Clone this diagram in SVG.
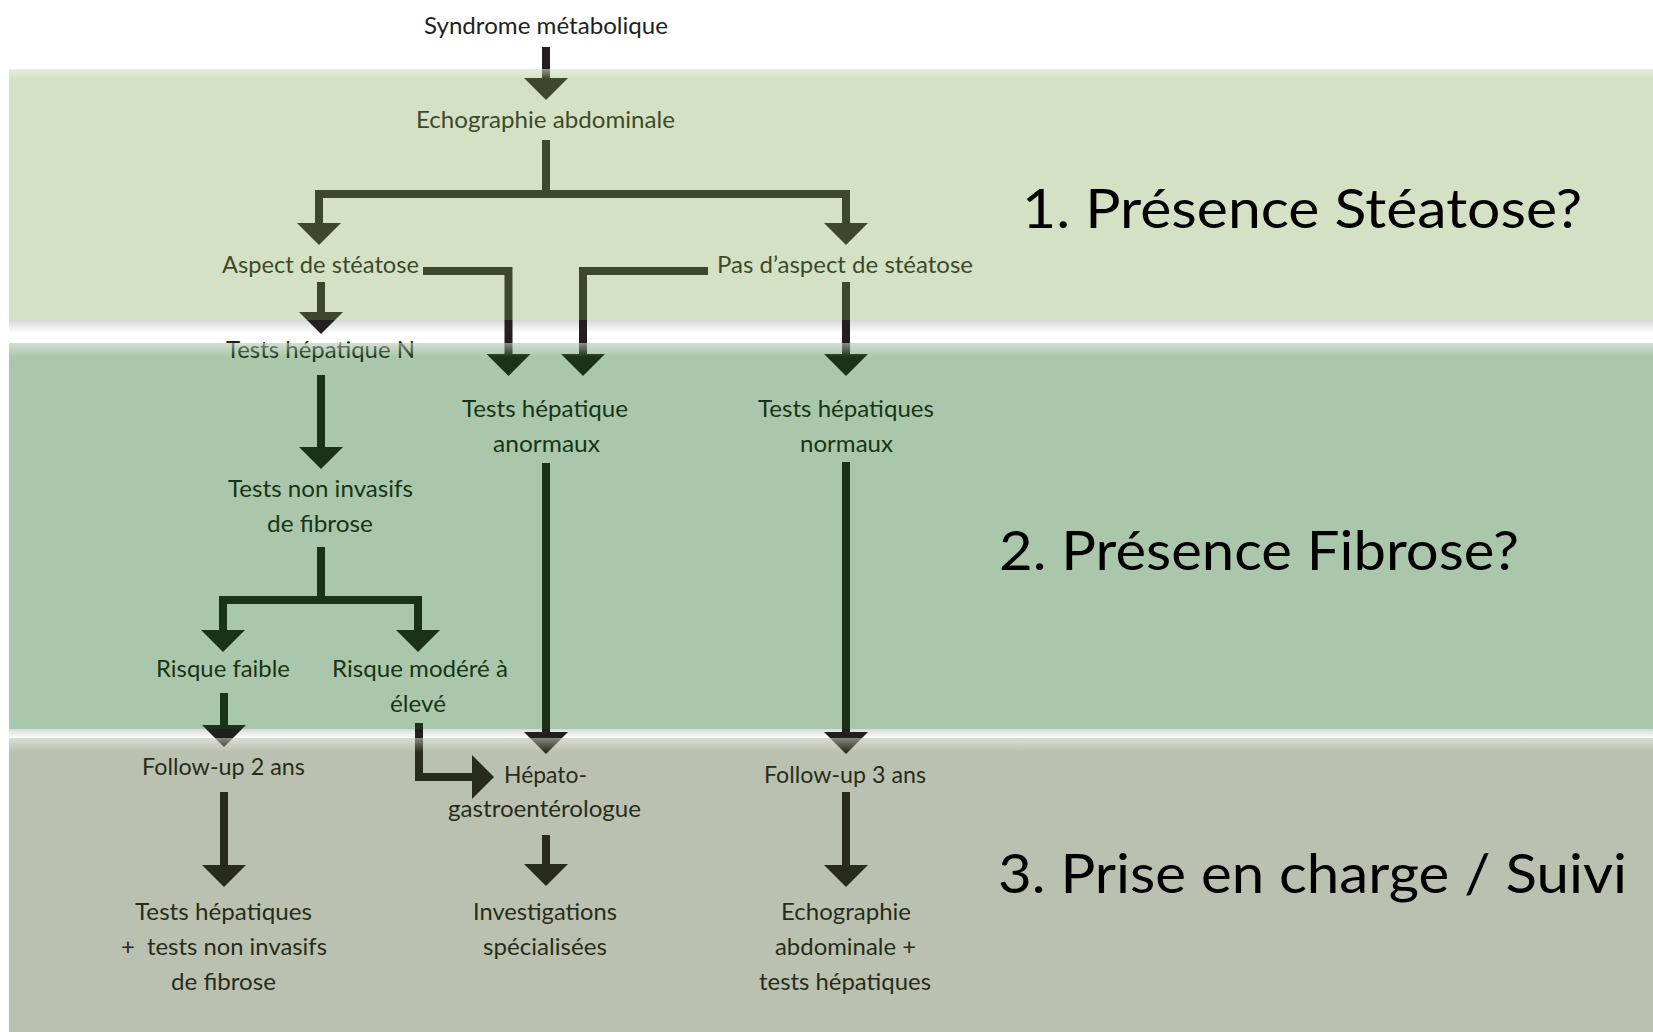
<svg xmlns="http://www.w3.org/2000/svg" width="1653" height="1032" viewBox="0 0 1653 1032">
  <defs>
    <marker id="ah" viewBox="0 0 22 44" refX="0" refY="22" markerWidth="22" markerHeight="44" markerUnits="userSpaceOnUse" orient="auto">
      <path d="M0,0 L22,22 L0,44 Z" fill="#231f20"/>
    </marker>
    <linearGradient id="shadow" x1="0" y1="0" x2="0" y2="1">
      <stop offset="0" stop-color="#d8d8d8"/>
      <stop offset="1" stop-color="#ffffff"/>
    </linearGradient>
    <linearGradient id="hl" x1="0" y1="0" x2="0" y2="1">
      <stop offset="0" stop-color="#ffffff" stop-opacity="0.45"/>
      <stop offset="1" stop-color="#ffffff" stop-opacity="0"/>
    </linearGradient>
  </defs>
  <style>
    .flow { font-family: Lato, "Liberation Sans", sans-serif; font-size: 24px; fill: #231f20; text-anchor: middle; }
    .conn { fill: none; stroke: #231f20; stroke-width: 8; stroke-linejoin: miter; stroke-linecap: butt; marker-end: url(#ah); }
    .sect { font-family: Lato, "Open Sans", sans-serif; font-size: 54px; fill: #000000; }
  </style>

  <rect x="0" y="0" width="1653" height="1032" fill="#ffffff"/>

  <!-- band shadows -->
  <g id="shadows">
    <rect x="9" y="320" width="1644" height="13" fill="url(#shadow)"/>
    <rect x="9" y="729" width="1644" height="9" fill="url(#shadow)"/>
  </g>

  <!-- connectors -->
  <g id="connectors">
    <path class="conn" d="M546,47 V78"/>
    <path class="conn" d="M546,140 V194 H319 V223"/>
    <path class="conn" d="M546,194 H846 V223"/>
    <path class="conn" d="M321,282 V312"/>
    <path class="conn" d="M423,271 H508.5 V354"/>
    <path class="conn" d="M708,271 H583 V354"/>
    <path class="conn" d="M846,282 V354"/>
    <path class="conn" d="M321,375 V447"/>
    <path class="conn" d="M321,547 V600 H223 V630"/>
    <path class="conn" d="M321,600 H418 V630"/>
    <path class="conn" d="M546,463 V732"/>
    <path class="conn" d="M846,462 V732"/>
    <path class="conn" d="M224,693 V725"/>
    <path class="conn" d="M419,723 V777 H472"/>
    <path class="conn" d="M224,792 V865"/>
    <path class="conn" d="M546,835 V864"/>
    <path class="conn" d="M846,792 V865"/>
  </g>

  <!-- nodes -->
  <g id="n-syndrome"><text class="flow" x="546" y="34" textLength="244" lengthAdjust="spacingAndGlyphs">Syndrome métabolique</text></g>
  <g id="n-echo"><text class="flow" x="545.5" y="128" textLength="259" lengthAdjust="spacingAndGlyphs">Echographie abdominale</text></g>
  <g id="n-aspect"><text class="flow" x="320.5" y="273" textLength="197" lengthAdjust="spacingAndGlyphs">Aspect de stéatose</text></g>
  <g id="n-pas-aspect"><text class="flow" x="845" y="273" textLength="256" lengthAdjust="spacingAndGlyphs">Pas d’aspect de stéatose</text></g>
  <g id="n-tests-n"><text class="flow" x="320.5" y="358" textLength="189" lengthAdjust="spacingAndGlyphs">Tests hépatique N</text></g>
  <g id="n-anormaux">
    <text class="flow" x="545" y="417" textLength="166" lengthAdjust="spacingAndGlyphs">Tests hépatique</text>
    <text class="flow" x="546.5" y="452" textLength="107" lengthAdjust="spacingAndGlyphs">anormaux</text>
  </g>
  <g id="n-normaux">
    <text class="flow" x="846" y="417" textLength="176" lengthAdjust="spacingAndGlyphs">Tests hépatiques</text>
    <text class="flow" x="846.5" y="452" textLength="93" lengthAdjust="spacingAndGlyphs">normaux</text>
  </g>
  <g id="n-non-invasifs">
    <text class="flow" x="320.5" y="497" textLength="185" lengthAdjust="spacingAndGlyphs">Tests non invasifs</text>
    <text class="flow" x="320" y="532" textLength="106" lengthAdjust="spacingAndGlyphs">de fibrose</text>
  </g>
  <g id="n-risque-faible"><text class="flow" x="223" y="677" textLength="134" lengthAdjust="spacingAndGlyphs">Risque faible</text></g>
  <g id="n-risque-eleve">
    <text class="flow" x="420" y="677" textLength="176" lengthAdjust="spacingAndGlyphs">Risque modéré à</text>
    <text class="flow" x="418" y="712" textLength="56" lengthAdjust="spacingAndGlyphs">élevé</text>
  </g>
  <g id="n-followup2"><text class="flow" x="223.5" y="775" textLength="163" lengthAdjust="spacingAndGlyphs">Follow-up 2 ans</text></g>
  <g id="n-hepato">
    <text class="flow" x="545.5" y="783" textLength="83" lengthAdjust="spacingAndGlyphs">Hépato-</text>
    <text class="flow" x="544.5" y="817" textLength="193" lengthAdjust="spacingAndGlyphs">gastroentérologue</text>
  </g>
  <g id="n-followup3"><text class="flow" x="845" y="783" textLength="162" lengthAdjust="spacingAndGlyphs">Follow-up 3 ans</text></g>
  <g id="n-suivi-tests">
    <text class="flow" x="223.5" y="920" textLength="177" lengthAdjust="spacingAndGlyphs">Tests hépatiques</text>
    <text class="flow" x="224" y="955" textLength="206" lengthAdjust="spacingAndGlyphs" xml:space="preserve">+  tests non invasifs</text>
    <text class="flow" x="223.5" y="990" textLength="105" lengthAdjust="spacingAndGlyphs">de fibrose</text>
  </g>
  <g id="n-investigations">
    <text class="flow" x="545" y="920" textLength="144" lengthAdjust="spacingAndGlyphs">Investigations</text>
    <text class="flow" x="545" y="955" textLength="124" lengthAdjust="spacingAndGlyphs">spécialisées</text>
  </g>
  <g id="n-echo-suivi">
    <text class="flow" x="846" y="920" textLength="130" lengthAdjust="spacingAndGlyphs">Echographie</text>
    <text class="flow" x="845.5" y="955" textLength="141" lengthAdjust="spacingAndGlyphs">abdominale +</text>
    <text class="flow" x="845" y="990" textLength="172" lengthAdjust="spacingAndGlyphs">tests hépatiques</text>
  </g>

  <!-- translucent section bands -->
  <g id="bands">
    <rect x="9" y="69" width="1644" height="251" fill="#769f43" fill-opacity="0.314"/>
    <rect x="9" y="343" width="1644" height="386" fill="#095b09" fill-opacity="0.34"/>
    <rect x="9" y="738" width="1644" height="294" fill="#334515" fill-opacity="0.335"/>
    <rect x="9" y="69" width="1644" height="10" fill="url(#hl)"/>
    <rect x="9" y="343" width="1644" height="14" fill="url(#hl)"/>
    <rect x="9" y="738" width="1644" height="14" fill="url(#hl)"/>
  </g>

  <!-- section labels -->
  <g id="section-labels">
    <text class="sect" x="1022" y="228" textLength="560" lengthAdjust="spacingAndGlyphs">1. Présence Stéatose?</text>
    <text class="sect" x="999" y="570" textLength="520" lengthAdjust="spacingAndGlyphs">2. Présence Fibrose?</text>
    <text class="sect" x="998" y="893" textLength="629" lengthAdjust="spacingAndGlyphs">3. Prise en charge / Suivi</text>
  </g>
</svg>
